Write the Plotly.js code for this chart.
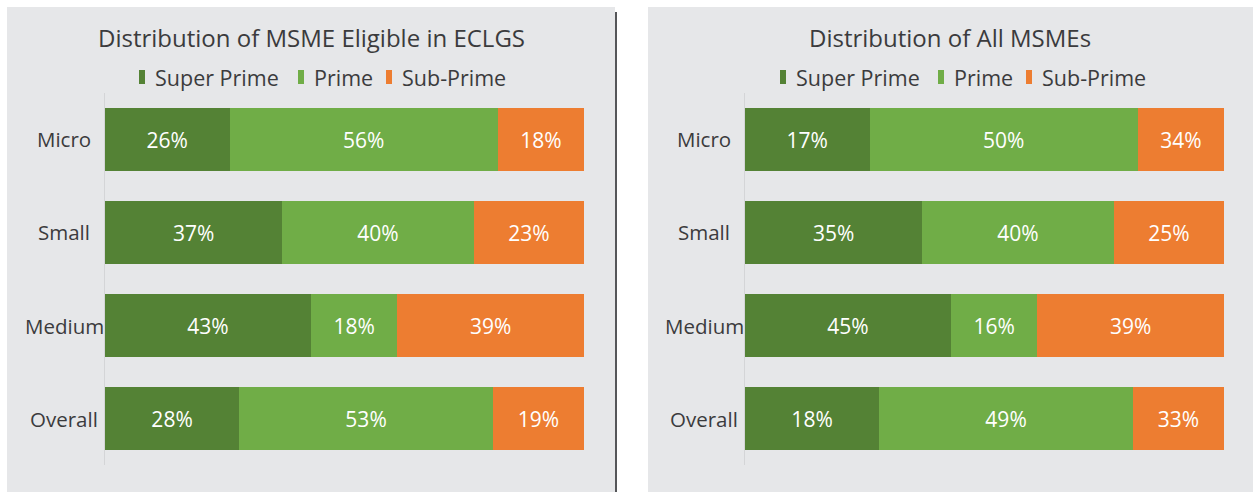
<!DOCTYPE html>
<html>
<head>
<meta charset="utf-8">
<script src="https://cdn.plot.ly/plotly-3.0.1.min.js"></script>
<style>
html,body{margin:0;padding:0;background:#ffffff;}
#chart{width:1253px;height:492px;}
</style>
</head>
<body>
<div id="chart"></div>
<script>
// ---- data ----
const categories = ['Micro', 'Small', 'Medium', 'Overall'];
const seriesNames = ['Super Prime', 'Prime', 'Sub-Prime'];

// Left panel: Distribution of MSME Eligible in ECLGS
const eclgsSuperPrime = [26, 37, 43, 28];
const eclgsPrime      = [56, 40, 18, 53];
const eclgsSubPrime   = [18, 23, 39, 19];

// Right panel: Distribution of All MSMEs (bar lengths as drawn in the picture)
const allBarSuperPrime = [26, 37, 43, 28];
const allBarPrime      = [56, 40, 18, 53];
const allBarSubPrime   = [18, 23, 39, 19];
// Right panel: printed labels
const allLabelSuperPrime = [17, 35, 45, 18];
const allLabelPrime      = [50, 40, 16, 49];
const allLabelSubPrime   = [34, 25, 39, 33];

const titles = ['Distribution of MSME Eligible in ECLGS', 'Distribution of All MSMEs'];

// ---- styles ----
const colors = ['#548235', '#70AD47', '#ED7D31'];
const FONT = '"Open Sans", Lato, sans-serif';
const TXT = '#3b3b3d';
const W = 1253, H = 492;
const px = x => x / W;
const py = y => 1 - y / H;

function barTrace(vals, labels, i, xa, ya) {
  return {
    type: 'bar', orientation: 'h',
    y: categories, x: vals,
    text: labels.map(v => v + '%'),
    textposition: 'inside', insidetextanchor: 'middle',
    textfont: {family: FONT, size: 21, color: '#ffffff', weight: 500},
    marker: {color: colors[i], line: {width: 0}},
    name: seriesNames[i], showlegend: false,
    xaxis: xa, yaxis: ya, hoverinfo: 'skip', cliponaxis: false
  };
}

const traces = [
  barTrace(eclgsSuperPrime, eclgsSuperPrime, 0, 'x', 'y'),
  barTrace(eclgsPrime, eclgsPrime, 1, 'x', 'y'),
  barTrace(eclgsSubPrime, eclgsSubPrime, 2, 'x', 'y'),
  barTrace(allBarSuperPrime, allLabelSuperPrime, 0, 'x2', 'y2'),
  barTrace(allBarPrime, allLabelPrime, 1, 'x2', 'y2'),
  barTrace(allBarSubPrime, allLabelSubPrime, 2, 'x2', 'y2')
];

const yDomain = [py(465), py(93)];
const xCommon = {range: [0, 100], showgrid: false, zeroline: false, showticklabels: false, showline: false, fixedrange: true};
const yCommon = {
  type: 'category', categoryorder: 'array', categoryarray: categories,
  autorange: 'reversed', showgrid: false, zeroline: false, showticklabels: false,
  showline: true, linecolor: '#d4d5d7', linewidth: 1, domain: yDomain, fixedrange: true
};

const panels = [
  {x0: 7, x1: 615, center: 311, axisX: 105, labelX: 64, legendX: [139, 298, 386], yref: 'y'},
  {x0: 648, x1: 1253, center: 950, axisX: 745, labelX: 704, legendX: [780, 938, 1026], yref: 'y2'}
];

const shapes = [];
const annotations = [];
panels.forEach((p, k) => {
  shapes.push({type: 'rect', xref: 'paper', yref: 'paper', x0: px(p.x0), x1: px(p.x1), y0: 0, y1: py(7),
    fillcolor: '#E6E7E9', line: {width: 0}, layer: 'below'});
  annotations.push({xref: 'paper', yref: 'paper', x: px(p.center), y: py(37), xanchor: 'center', yanchor: 'middle',
    text: titles[k], showarrow: false, font: {family: FONT, size: 24, color: TXT, weight: 500}});
  seriesNames.forEach((n, i) => {
    const lx = p.legendX[i];
    shapes.push({type: 'rect', xref: 'paper', yref: 'paper', x0: px(lx), x1: px(lx + 6), y0: py(84), y1: py(70),
      fillcolor: colors[i], line: {width: 0}});
    annotations.push({xref: 'paper', yref: 'paper', x: px(lx + 14), y: py(77), xanchor: 'left', yanchor: 'middle',
      text: n, showarrow: false, font: {family: FONT, size: 21.5, color: TXT, weight: 500}});
  });
  categories.forEach(c => {
    annotations.push({xref: 'paper', yref: p.yref, x: px(p.labelX), y: c, xanchor: 'center', yanchor: 'middle',
      text: c, showarrow: false, font: {family: FONT, size: 20.5, color: TXT, weight: 500}});
  });
});
// divider line
shapes.push({type: 'line', xref: 'paper', yref: 'paper', x0: px(616), x1: px(616), y0: 0, y1: py(12),
  line: {color: '#555659', width: 2}});

const layout = {
  width: W, height: H,
  margin: {l: 0, r: 0, t: 0, b: 0},
  paper_bgcolor: '#ffffff', plot_bgcolor: 'rgba(0,0,0,0)',
  barmode: 'stack', bargap: 0.33,
  showlegend: false,
  xaxis: Object.assign({}, xCommon, {domain: [px(105), px(584)], anchor: 'y'}),
  yaxis: Object.assign({}, yCommon, {anchor: 'x'}),
  xaxis2: Object.assign({}, xCommon, {domain: [px(745), px(1224)], anchor: 'y2'}),
  yaxis2: Object.assign({}, yCommon, {anchor: 'x2'}),
  shapes: shapes,
  annotations: annotations,
  font: {family: FONT, color: TXT}
};

Plotly.newPlot('chart', traces, layout, {displayModeBar: false, staticPlot: true});
</script>
</body>
</html>
